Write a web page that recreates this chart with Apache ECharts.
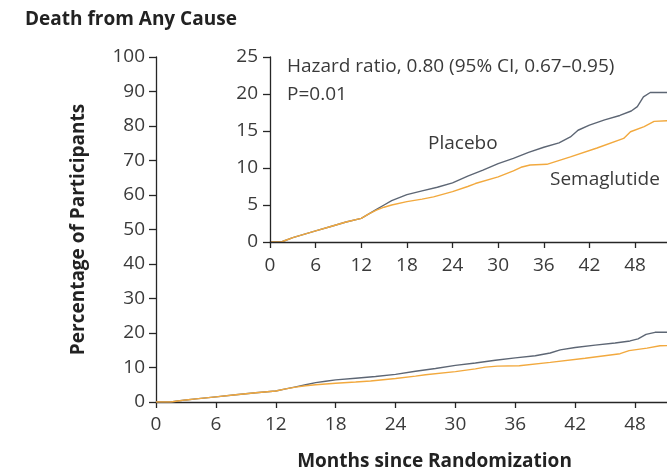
<!DOCTYPE html>
<html>
<head>
<meta charset="utf-8">
<title>Death from Any Cause</title>
<script src="https://cdn.jsdelivr.net/npm/echarts@6/dist/echarts.min.js"></script>
<style>
  html, body { margin: 0; padding: 0; background: #ffffff; }
  #chart { width: 667px; height: 470px; }
</style>
</head>
<body>
<div id="chart"></div>
<script>
// Cumulative incidence of death from any cause (percent of participants)
const placeboMonths = [0, 1.5, 2, 3, 4, 6, 8, 10, 12, 13, 14, 15, 16, 17, 18, 20, 22, 24, 26, 28, 30, 32, 34, 36, 38, 39.5, 40.5, 42, 44, 46, 47.5, 48.3, 49.1, 50, 52.3];
const placeboPct    = [0, 0, 0.2, 0.6, 0.9, 1.5, 2.1, 2.7, 3.2, 3.8, 4.4, 5.0, 5.6, 6.0, 6.4, 6.9, 7.4, 8.0, 8.9, 9.7, 10.6, 11.3, 12.1, 12.8, 13.4, 14.2, 15.1, 15.8, 16.5, 17.1, 17.7, 18.3, 19.6, 20.2, 20.2];

const semaMonths = [0, 1.5, 2, 3, 4, 6, 8, 10, 12, 13, 14, 15, 16, 18, 20, 21.5, 24, 26, 27, 30, 32, 33, 34.2, 36.4, 39.5, 43, 46.5, 47.4, 49.2, 50.5, 52.3];
const semaPct    = [0, 0, 0.2, 0.6, 0.9, 1.5, 2.1, 2.7, 3.2, 3.8, 4.3, 4.7, 5.0, 5.45, 5.8, 6.1, 6.8, 7.5, 7.9, 8.8, 9.6, 10.1, 10.4, 10.5, 11.5, 12.7, 14.0, 14.9, 15.6, 16.3, 16.4];

const monthTicks = [0, 6, 12, 18, 24, 30, 36, 42, 48];

const seriesNames = ['Placebo', 'Semaglutide'];
const title = 'Death from Any Cause';
const hazardText = 'Hazard ratio, 0.80 (95% CI, 0.67\u20130.95)';
const pText = 'P=0.01';

const FONT = '"Open Sans", "Liberation Sans", sans-serif';
const FS = 19;
const AXIS = '#262626';
const TEXT = '#3a3a3a';
const PLACEBO_COLOR = '#5d6674';
const SEMA_COLOR = '#f2a93e';

const pairs = (xs, ys) => xs.map((x, i) => [x, ys[i]]);

function xAxisCfg(gridIndex, max, name, labelMargin, nameGap) {
  return {
    type: 'value', gridIndex, min: 0, max,
    name, nameLocation: 'middle', nameGap,
    nameTextStyle: { fontFamily: FONT, fontSize: FS, fontWeight: 'bold', color: '#222', padding: [0, 0, 0, 46] },
    axisLine: { show: true, onZero: false, lineStyle: { color: AXIS, width: 1.3 } },
    axisTick: { show: true, inside: false, length: 6, customValues: monthTicks, lineStyle: { color: AXIS, width: 1.3 } },
    axisLabel: { customValues: monthTicks, margin: labelMargin, fontFamily: FONT, fontSize: FS, color: TEXT },
    splitLine: { show: false }
  };
}

function yAxisCfg(gridIndex, max, interval, name, labelMargin) {
  return {
    type: 'value', gridIndex, min: 0, max, interval,
    name, nameLocation: 'middle', nameGap: 68, nameRotate: 90,
    nameTextStyle: { fontFamily: FONT, fontSize: FS, fontWeight: 'bold', color: '#222' },
    axisLine: { show: true, lineStyle: { color: AXIS, width: 1.3 } },
    axisTick: { show: true, inside: false, length: 7, lineStyle: { color: AXIS, width: 1.3 } },
    axisLabel: { margin: labelMargin, fontFamily: FONT, fontSize: FS, color: TEXT },
    splitLine: { show: false }
  };
}

function curve(name, xs, ys, color, axisIndex) {
  return {
    name, type: 'line', xAxisIndex: axisIndex, yAxisIndex: axisIndex,
    data: pairs(xs, ys), showSymbol: false, symbol: 'none', clip: true,
    lineStyle: { color, width: 1.4 }, itemStyle: { color },
    z: 3, animation: false
  };
}

const chart = echarts.init(document.getElementById('chart'), null, { renderer: 'canvas' });

chart.setOption({
  backgroundColor: '#ffffff',
  animation: false,
  textStyle: { fontFamily: FONT },
  grid: [
    { left: 156, top: 57, width: 511, height: 345, outerBoundsMode: 'none', containLabel: false },
    { left: 270, top: 57, width: 397, height: 185, z: 5, outerBoundsMode: 'none', containLabel: false }
  ],
  xAxis: [
    xAxisCfg(0, 51.2, 'Months since Randomization', 13, 50),
    Object.assign(xAxisCfg(1, 52.2, '', 14, 50), { z: 5 })
  ],
  yAxis: [
    yAxisCfg(0, 100, 10, 'Percentage of Participants', 11),
    Object.assign(yAxisCfg(1, 25, 5, '', 12), { z: 5 })
  ],
  series: [
    curve(seriesNames[0], placeboMonths, placeboPct, PLACEBO_COLOR, 0),
    curve(seriesNames[1], semaMonths, semaPct, SEMA_COLOR, 0),
    curve(seriesNames[0], placeboMonths, placeboPct, PLACEBO_COLOR, 1),
    curve(seriesNames[1], semaMonths, semaPct, SEMA_COLOR, 1)
  ],
  graphic: [
    { type: 'text', left: 25, top: 10,
      style: { text: title, fontFamily: FONT, fontSize: FS, fontWeight: 'bold', fill: '#222' } },
    { type: 'text', left: 287, top: 57,
      style: { text: hazardText, fontFamily: FONT, fontSize: FS, fill: TEXT } },
    { type: 'text', left: 287, top: 85,
      style: { text: pText, fontFamily: FONT, fontSize: FS, fill: TEXT } },
    { type: 'text', left: 428, top: 134,
      style: { text: seriesNames[0], fontFamily: FONT, fontSize: FS, fill: TEXT } },
    { type: 'text', left: 550, top: 170,
      style: { text: seriesNames[1], fontFamily: FONT, fontSize: FS, fill: TEXT } }
  ]
});
</script>
</body>
</html>
